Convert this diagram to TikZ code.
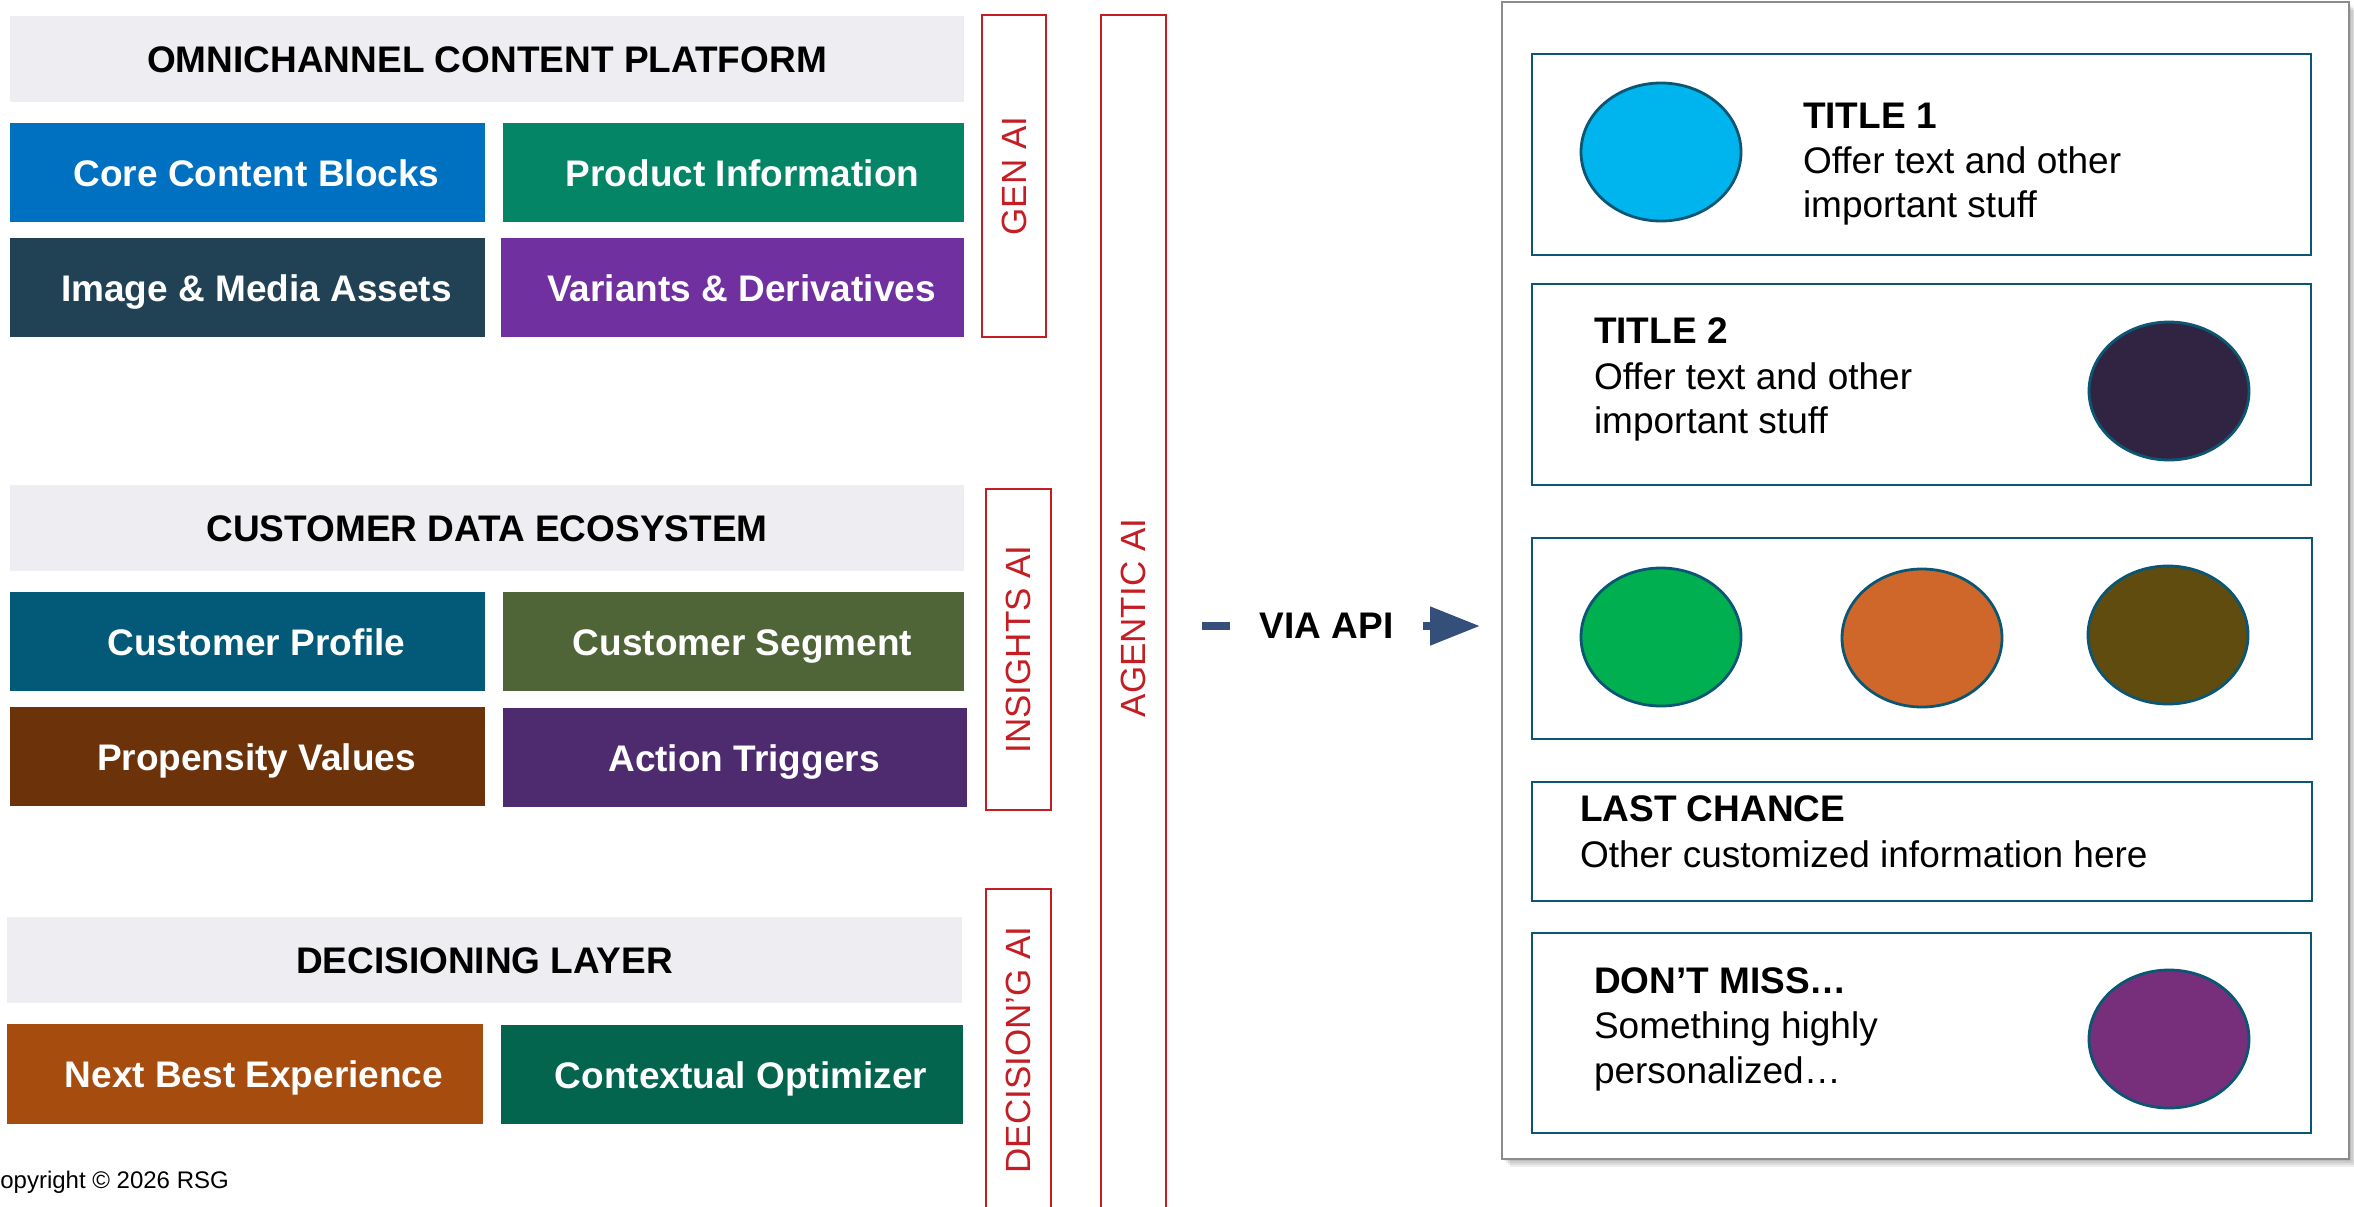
\documentclass[tikz,border=0pt]{standalone}
\usepackage{fontspec}
\setmainfont{Liberation Sans}
\usetikzlibrary{arrows.meta,shapes.geometric}

% palette
\definecolor{hdrgray}{HTML}{EEEEF2}
\definecolor{cBlue}{HTML}{0070C0}
\definecolor{cTealGreen}{HTML}{038566}
\definecolor{cSlate}{HTML}{214254}
\definecolor{cViolet}{HTML}{7030A0}
\definecolor{cPetrol}{HTML}{025A78}
\definecolor{cMoss}{HTML}{4F6538}
\definecolor{cBrown}{HTML}{6C330B}
\definecolor{cPlum}{HTML}{4E2A6E}
\definecolor{cRust}{HTML}{A64C0F}
\definecolor{cPine}{HTML}{03654E}
\definecolor{aired}{HTML}{C41E24}
\definecolor{cardteal}{HTML}{0B5773}
\definecolor{panelgray}{HTML}{8C8C8C}
\definecolor{apiblue}{HTML}{34507A}
\definecolor{oCyan}{HTML}{00B4EE}
\definecolor{oNight}{HTML}{312443}
\definecolor{oGreen}{HTML}{00B050}
\definecolor{oOrange}{HTML}{D0672A}
\definecolor{oOlive}{HTML}{604C0E}
\definecolor{oPurple}{HTML}{772F7B}

\newcommand\lblfont{\fontsize{18.5pt}{22pt}\selectfont}
\newcommand\aifont{\fontsize{17.5pt}{21pt}\selectfont}

\begin{document}
\begin{tikzpicture}[x=0.5pt,y=-0.5pt,
  every node/.style={inner sep=0pt,outer sep=0pt},
  sz/.style 2 args={minimum width={#1*0.5pt},minimum height={#2*0.5pt}},
  % fixed text box so every label sits on the same baseline
  evenline/.style={text height=17pt,text depth=3.5pt},
  hdr/.style={anchor=north west,fill=hdrgray,font=\lblfont\bfseries,text=black,evenline},
  blk/.style={anchor=north west,font=\lblfont\bfseries,text=white,evenline,
    execute at begin node=\hspace*{9pt}},
  aibox/.style={anchor=north west,draw=aired,line width=1.2pt},
  aitext/.style={rotate=90,text=aired,font=\aifont},
  card/.style={anchor=north west,draw=cardteal,line width=1.4pt,fill=white},
  oval/.style={ellipse,draw=cardteal,line width=1.4pt,sz={160}{138}},
  ttl/.style={anchor=base west,font=\lblfont\bfseries},
  txt/.style={anchor=base west,font=\lblfont},
  apiline/.style={draw=apiblue,line width=4pt}]

\clip (0,0) rectangle (2354,1206);
\fill[white] (0,0) rectangle (2354,1206);

% ---- content platform
\node[hdr,sz={954}{86}] (hdrA) at (10,16) {OMNICHANNEL CONTENT PLATFORM};
\node[blk,fill=cBlue,sz={475}{99}] (core) at (10,123) {Core Content Blocks};
\node[blk,fill=cTealGreen,sz={461}{99}] (prod) at (503,123) {Product Information};
\node[blk,fill=cSlate,sz={475}{99}] (media) at (10,238) {Image \& Media Assets};
\node[blk,fill=cViolet,sz={463}{99}] (variants) at (501,238) {Variants \& Derivatives};

% ---- customer data
\node[hdr,sz={954}{86}] (hdrB) at (10,485) {CUSTOMER DATA ECOSYSTEM};
\node[blk,fill=cPetrol,sz={475}{99}] (profile) at (10,592) {Customer Profile};
\node[blk,fill=cMoss,sz={461}{99}] (segment) at (503,592) {Customer Segment};
\node[blk,fill=cBrown,sz={475}{99}] (propensity) at (10,707) {Propensity Values};
\node[blk,fill=cPlum,sz={464}{99}] (triggers) at (503,708) {Action Triggers};

% ---- decisioning
\node[hdr,sz={955}{86}] (hdrC) at (7,917) {DECISIONING LAYER};
\node[blk,fill=cRust,sz={476}{100}] (nbe) at (7,1024) {Next Best Experience};
\node[blk,fill=cPine,sz={462}{99}] (ctx) at (501,1025) {Contextual Optimizer};

% ---- AI bands
\node[aibox,sz={64}{322}] (genai) at (982,15) {};
\node[aitext] (genaiT) at (genai.center) {GEN AI};
\node[aibox,sz={65}{321}] (insights) at (986,489) {};
\node[aitext] (insightsT) at (insights.center) {INSIGHTS AI};
\node[aibox,sz={65}{322}] (decision) at (986,889) {};
\node[aitext] (decisionT) at (decision.center) {DECISION’G AI};
\node[aibox,sz={65}{1206}] (agentic) at (1101,15) {};
\node[aitext] (agenticT) at (agentic.center) {AGENTIC AI};

% ---- API link
\node[font=\lblfont\bfseries,sz={193}{40}] (api) at (1326.5,626) {VIA API};
\coordinate (apiL) at (1202,626);
\coordinate (apiR) at (1480,626);
\draw[apiline] (apiL) -- (api.west);
\draw[apiline,-{Triangle[length=25pt,width=18.5pt]}] (api.east) -- (apiR);

% ---- experience panel with soft shadow
\foreach \k in {2,4,6,8}
  \fill[black,opacity=0.07] (1502+\k,2+\k) rectangle (2349+\k,1159+\k);
\node[anchor=north west,draw=panelgray,line width=1.4pt,fill=white,sz={847}{1157}] (panel) at (1502,2) {};

\node[card,sz={779}{201}] (card1) at (1532,54) {};
\node[oval,fill=oCyan] (e1) at (1661,152) {};
\node[ttl] (t1a) at (1803,128) {TITLE 1};
\node[txt] (t1b) at (1803,173) {Offer text and other};
\node[txt] (t1c) at (1803,217) {important stuff};

\node[card,sz={779}{201}] (card2) at (1532,284) {};
\node[oval,fill=oNight] (e2) at (2169,391) {};
\node[ttl] (t2a) at (1594,343) {TITLE 2};
\node[txt] (t2b) at (1594,389) {Offer text and other};
\node[txt] (t2c) at (1594,433) {important stuff};

\node[card,sz={780}{201}] (card3) at (1532,538) {};
\node[oval,fill=oGreen] (e3) at (1661,637) {};
\node[oval,fill=oOrange] (e4) at (1922,638) {};
\node[oval,fill=oOlive] (e5) at (2168,635) {};

\node[card,sz={780}{119}] (card4) at (1532,782) {};
\node[ttl] (t4a) at (1580,821) {LAST CHANCE};
\node[txt] (t4b) at (1580,867) {Other customized information here};

\node[card,sz={779}{200}] (card5) at (1532,933) {};
\node[oval,fill=oPurple] (e6) at (2169,1039) {};
\node[ttl] (t5a) at (1594,993) {DON’T MISS…};
\node[txt] (t5b) at (1594,1038) {Something highly};
\node[txt] (t5c) at (1594,1083) {personalized…};

% ---- footer
\node[anchor=base west,font=\fontsize{12pt}{14pt}\selectfont] (copy) at (-17,1188) {Copyright © 2026 RSG};
\end{tikzpicture}
\end{document}
